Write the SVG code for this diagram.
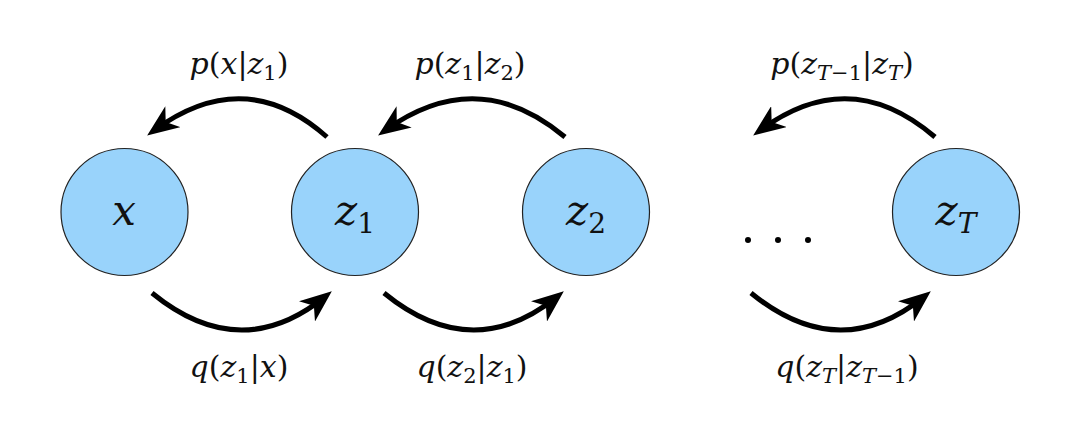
<svg xmlns="http://www.w3.org/2000/svg" width="1080" height="423" viewBox="0 0 1080 423">
<style>
.node{fill:#99d3fb;stroke:#222;stroke-width:1.2}
.lbl{font-family:"DejaVu Serif","Liberation Serif","Times New Roman",serif;font-size:30px;fill:#111}
.nl{font-family:"DejaVu Serif","Liberation Serif","Times New Roman",serif;font-size:42px;fill:#111}
.i{font-style:italic}
.s{font-size:21px}
.arc{fill:none;stroke:#000;stroke-width:5;marker-end:url(#ah)}
</style>
<defs>
<marker id="ah" viewBox="0 0 32 26" markerWidth="32" markerHeight="26" refX="23" refY="13" orient="auto" markerUnits="userSpaceOnUse">
<path d="M32,13 L0,0 L9,13 L0,26 Z" fill="#000"/>
</marker>
</defs>
<rect width="1080" height="423" fill="#fff"/>
<g id="node-x">
<circle class="node" cx="124.5" cy="212" r="63.5"/>
<text class="nl i" x="124" y="225" text-anchor="middle">x</text>
</g>
<g id="node-z1">
<circle class="node" cx="355" cy="212" r="63.5"/>
<text class="nl" x="355" y="225" text-anchor="middle"><tspan class="i">z</tspan><tspan font-size="28" dy="8">1</tspan></text>
</g>
<g id="node-z2">
<circle class="node" cx="586" cy="212" r="63.5"/>
<text class="nl" x="586" y="225" text-anchor="middle"><tspan class="i">z</tspan><tspan font-size="28" dy="8">2</tspan></text>
</g>
<g id="dots">
<circle cx="748" cy="240" r="3" fill="#000"/>
<circle cx="778" cy="240" r="3" fill="#000"/>
<circle cx="808" cy="240" r="3" fill="#000"/>
</g>
<g id="node-zT">
<circle class="node" cx="956" cy="212" r="63.5"/>
<text class="nl" x="956" y="225" text-anchor="middle"><tspan class="i">z</tspan><tspan class="i" font-size="28" dy="8">T</tspan></text>
</g>
<g id="connectors">
<path class="arc" d="M327,137 Q245,64 154.4,130.2"/>
<path class="arc" d="M152,293 Q240,365 324.8,297"/>
<path class="arc" d="M565,137 Q478,64 385.4,130.2"/>
<path class="arc" d="M384,293 Q472,365 556.8,297"/>
<path class="arc" d="M935,137 Q850,64 760.4,130.2"/>
<path class="arc" d="M751,293 Q839,365 923.8,297"/>
</g>
<g id="labels">
<text class="lbl" x="239" y="74" text-anchor="middle"><tspan class="i">p</tspan>(<tspan class="i">x</tspan>|<tspan class="i">z</tspan><tspan class="s" dy="6">1</tspan><tspan dy="-6">)</tspan></text>
<text class="lbl" x="239" y="377" text-anchor="middle"><tspan class="i">q</tspan>(<tspan class="i">z</tspan><tspan class="s" dy="6">1</tspan><tspan dy="-6">|</tspan><tspan class="i">x</tspan>)</text>
<text class="lbl" x="470" y="74" text-anchor="middle"><tspan class="i">p</tspan>(<tspan class="i">z</tspan><tspan class="s" dy="6">1</tspan><tspan dy="-6">|</tspan><tspan class="i">z</tspan><tspan class="s" dy="6">2</tspan><tspan dy="-6">)</tspan></text>
<text class="lbl" x="472" y="377" text-anchor="middle"><tspan class="i">q</tspan>(<tspan class="i">z</tspan><tspan class="s" dy="6">2</tspan><tspan dy="-6">|</tspan><tspan class="i">z</tspan><tspan class="s" dy="6">1</tspan><tspan dy="-6">)</tspan></text>
<text class="lbl" x="842" y="74" text-anchor="middle"><tspan class="i">p</tspan>(<tspan class="i">z</tspan><tspan class="s i" dy="6">T</tspan><tspan class="s">−1</tspan><tspan dy="-6">|</tspan><tspan class="i">z</tspan><tspan class="s i" dy="6">T</tspan><tspan dy="-6">)</tspan></text>
<text class="lbl" x="847" y="377" text-anchor="middle"><tspan class="i">q</tspan>(<tspan class="i">z</tspan><tspan class="s i" dy="6">T</tspan><tspan dy="-6">|</tspan><tspan class="i">z</tspan><tspan class="s i" dy="6">T</tspan><tspan class="s">−1</tspan><tspan dy="-6">)</tspan></text>
</g>
</svg>
